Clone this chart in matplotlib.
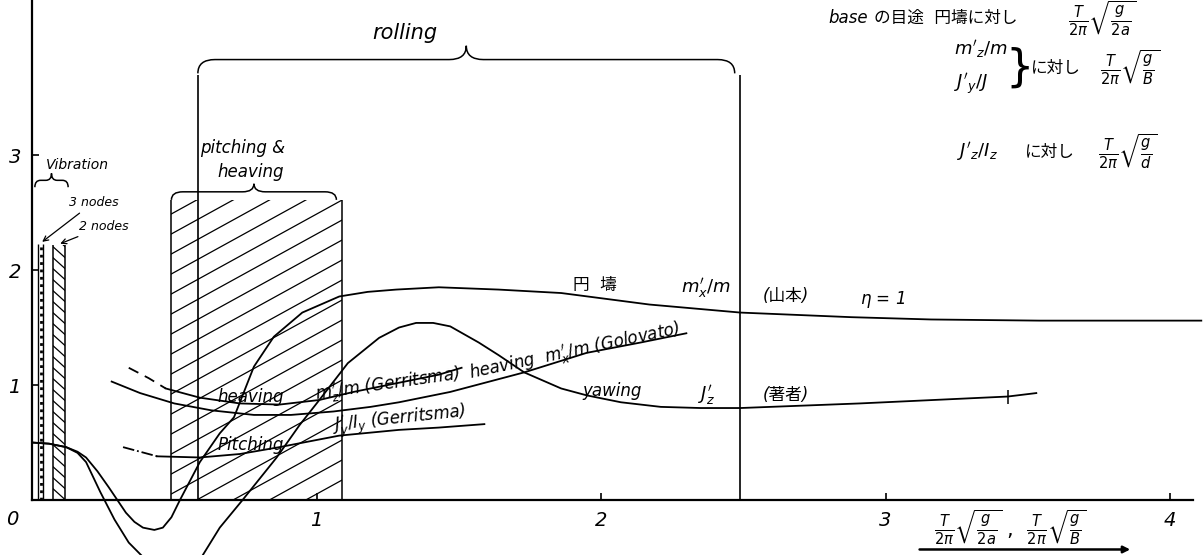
import numpy as np
import matplotlib
matplotlib.use("Agg")
import matplotlib.pyplot as plt
from matplotlib.patches import Rectangle, PathPatch
from matplotlib.path import Path

plt.rcParams['font.family'] = ['DejaVu Sans', 'Noto Sans CJK JP']
plt.rcParams['mathtext.fontset'] = 'dejavusans'

# 円壔 m_x'/m (山本) eta=1
cyl_x = [0.00, 0.06, 0.12, 0.16, 0.19, 0.23, 0.27, 0.30, 0.33, 0.36, 0.39, 0.43,
         0.46, 0.49, 0.52, 0.59, 0.66, 0.71, 0.78, 0.85, 0.95, 1.08, 1.18, 1.28,
         1.43, 1.64, 1.86, 2.17, 2.49, 2.88, 3.16, 3.54, 4.11]
cyl_y = [0.50, 0.49, 0.46, 0.42, 0.37, 0.25, 0.11, 0.00, -0.11, -0.19, -0.24, -0.26,
         -0.24, -0.15, 0.00, 0.33, 0.58, 0.72, 1.16, 1.42, 1.63, 1.77, 1.81, 1.83,
         1.85, 1.83, 1.80, 1.70, 1.63, 1.59, 1.57, 1.56, 1.56]

# yawing J_z' (著者)
yaw_x = [0.00, 0.06, 0.12, 0.16, 0.19, 0.24, 0.29, 0.34, 0.40, 0.49, 0.59, 0.66,
         0.74, 0.86, 0.94, 1.01, 1.11, 1.22, 1.29, 1.35, 1.41, 1.47, 1.57, 1.64,
         1.73, 1.86, 1.95, 2.07, 2.21, 2.35, 2.49, 2.91, 3.43, 3.53]
yaw_y = [0.50, 0.49, 0.46, 0.41, 0.33, 0.07, -0.17, -0.37, -0.52, -0.74, -0.52, -0.24,
         0.00, 0.37, 0.65, 0.87, 1.19, 1.41, 1.50, 1.54, 1.54, 1.51, 1.37, 1.26,
         1.11, 0.97, 0.91, 0.85, 0.81, 0.80, 0.80, 0.84, 0.90, 0.93]

# heaving m_z'/m (Gerritsma), dashed start then solid
hg_dash_x = [0.34, 0.41, 0.47]
hg_dash_y = [1.15, 1.06, 0.97]
hg_x = [0.47, 0.59, 0.73, 0.87, 1.01, 1.13, 1.29, 1.43, 1.51]
hg_y = [0.97, 0.89, 0.84, 0.83, 0.87, 0.94, 1.02, 1.09, 1.15]

# heaving m_x'/m (Golovato)
hv_x = [0.28, 0.38, 0.50, 0.63, 0.78, 0.91, 1.06, 1.19, 1.29, 1.47, 1.73, 1.95, 2.14, 2.30]
hv_y = [1.03, 0.93, 0.84, 0.78, 0.74, 0.74, 0.77, 0.81, 0.85, 0.94, 1.11, 1.28, 1.37, 1.45]

# pitching J_y'/I_y (Gerritsma), dash-dot start then solid
pg_dash_x = [0.32, 0.44]
pg_dash_y = [0.46, 0.38]
pg_x = [0.44, 0.59, 0.73, 0.87, 1.08, 1.29, 1.43, 1.59]
pg_y = [0.38, 0.37, 0.40, 0.46, 0.56, 0.61, 0.63, 0.66]

# ranges
vib3 = (0.021, 0.039, 2.23)
vib2 = (0.074, 0.116, 2.22)
pitch_heave = (0.49, 1.09, 2.61)
rolling = (0.583, 2.49, 3.70)

xmin, xmax = -0.1125, 4.116
ymin, ymax = -0.478, 4.348
W, H = 1203, 555
sx = W / (xmax - xmin)
sy = H / (ymax - ymin)

fig = plt.figure(figsize=(W / 100, H / 100), dpi=100)
ax = fig.add_axes([0, 0, 1, 1])
ax.set_xlim(xmin, xmax)
ax.set_ylim(ymin, ymax)

lw = 1.3
k = 'black'


def hatch(x0, x1, top, step_px, slope_px):
    clip = Rectangle((x0, 0), x1 - x0, top, fill=False, edgecolor='none')
    ax.add_patch(clip)
    slope = slope_px * sx / sy
    span = abs(slope) * (x1 - x0)
    for c in np.arange(-span, top + span, step_px / sy):
        ln, = ax.plot([x0, x1], [c, c + slope * (x1 - x0)], color=k, lw=0.9)
        ln.set_clip_path(clip)
    ax.vlines([x0, x1], 0, top, color=k, lw=1.1)


def brace(x0, x1, y, h, r):
    xm = (x0 + x1) / 2
    verts = [(x0, y - h), (x0, y), (x0 + r, y), (xm - r, y), (xm, y), (xm, y + h),
             (xm, y), (xm + r, y), (x1 - r, y), (x1, y), (x1, y - h)]
    codes = [Path.MOVETO, Path.CURVE3, Path.CURVE3, Path.LINETO, Path.CURVE3, Path.CURVE3,
             Path.CURVE3, Path.CURVE3, Path.LINETO, Path.CURVE3, Path.CURVE3]
    ax.add_patch(PathPatch(Path(verts, codes), fill=False, edgecolor=k, lw=1.1))


# shaded ranges
hatch(pitch_heave[0], pitch_heave[1], pitch_heave[2], 20, 0.55)
hatch(vib2[0], vib2[1], vib2[2], 11, -0.9)
ax.vlines([vib3[0], vib3[1]], 0, vib3[2], color=k, lw=1.0)
ax.vlines((vib3[0] + vib3[1]) / 2, 0, vib3[2], color=k, lw=2.0, linestyles=':')
ax.vlines([rolling[0], rolling[1]], 0, rolling[2], color=k, lw=1.2)

brace(rolling[0], rolling[1] - 0.02, 3.83, 0.12, 0.06)
brace(pitch_heave[0], pitch_heave[1] - 0.02, 2.68, 0.07, 0.04)
brace(0.01, 0.127, 2.78, 0.06, 0.02)

# curves
ax.plot(cyl_x, cyl_y, color=k, lw=lw)
ax.plot(yaw_x, yaw_y, color=k, lw=lw)
ax.plot(yaw_x[-2], yaw_y[-2], marker='|', ms=10, color=k, mew=1.1)
ax.plot(hg_dash_x, hg_dash_y, color=k, lw=lw, ls=(0, (6, 4)))
ax.plot(hg_x, hg_y, color=k, lw=lw)
ax.plot(hv_x, hv_y, color=k, lw=lw)
ax.plot(pg_dash_x, pg_dash_y, color=k, lw=lw, ls='-.')
ax.plot(pg_x, pg_y, color=k, lw=lw)

# axes
for s in ['top', 'right']:
    ax.spines[s].set_visible(False)
ax.spines['left'].set_position(('data', 0))
ax.spines['bottom'].set_position(('data', 0))
ax.spines['left'].set_bounds(0, ymax)
ax.spines['bottom'].set_bounds(0, 4.08)
ax.spines['left'].set_linewidth(1.6)
ax.spines['bottom'].set_linewidth(1.6)
ax.set_xticks([1, 2, 3, 4])
ax.set_yticks([1, 2, 3])
ax.tick_params(direction='in', length=5, width=1.2, labelsize=14, pad=8)
for lbl in ax.get_xticklabels() + ax.get_yticklabels():
    lbl.set_fontstyle('italic')
ax.text(-0.07, -0.17, '0', fontsize=14, style='italic', ha='center', va='center')

it = dict(style='italic', ha='center', va='center')

# range labels
ax.text(1.31, 4.06, 'rolling', fontsize=15, **it)
ax.text(0.74, 3.06, 'pitching &', fontsize=12, **it)
ax.text(0.77, 2.85, 'heaving', fontsize=12, **it)
ax.text(0.16, 2.91, 'Vibration', fontsize=10, **it)
ax.annotate('3 nodes', xy=(0.028, 2.23), xytext=(0.13, 2.59), fontsize=9, style='italic',
            va='center', arrowprops=dict(arrowstyle='->', color=k, lw=0.9))
ax.annotate('2 nodes', xy=(0.09, 2.22), xytext=(0.165, 2.38), fontsize=9, style='italic',
            va='center', arrowprops=dict(arrowstyle='->', color=k, lw=0.9))

# curve labels
ax.text(1.98, 1.87, '円  壔', fontsize=12, **it)
ax.text(2.37, 1.84, r"$m_x'/m$", fontsize=13, **it)
ax.text(2.65, 1.77, '(山本)', fontsize=12, **it)
ax.text(2.99, 1.74, r'$\eta$ = 1', fontsize=12, **it)
ax.text(0.77, 0.90, 'heaving', fontsize=12, **it)
ax.text(1.25, 1.00, r"$m_z'/m$ (Gerritsma)", fontsize=12, rotation=8, **it)
ax.text(1.91, 1.29, r"heaving  $m_x'/m$ (Golovato)", fontsize=12, rotation=12, **it)
ax.text(2.04, 0.95, 'yawing', fontsize=12, **it)
ax.text(2.37, 0.91, r"$J_z'$", fontsize=13, **it)
ax.text(2.65, 0.91, '(著者)', fontsize=12, **it)
ax.text(0.77, 0.48, 'Pitching', fontsize=12, **it)
ax.text(1.29, 0.68, r"$J_y'/I_y$ (Gerritsma)", fontsize=12, rotation=6, **it)

# base notes, top right (CJK and mathtext kept in separate texts)
ax.text(2.80, 4.19, 'base', fontsize=12, style='italic', ha='left', va='center')
ax.text(2.96, 4.19, 'の目途  円壔に対し', fontsize=12, ha='left', va='center')
ax.text(3.76, 4.19, r'$\frac{T}{2\pi}\sqrt{\frac{g}{2a}}$', fontsize=15, ha='center', va='center')
ax.text(3.24, 3.92, r"$m'_z/m$", fontsize=13, ha='left', va='center')
ax.text(3.24, 3.61, r"$J'_y/J$", fontsize=13, ha='left', va='center')
ax.text(3.47, 3.76, '}', fontsize=32, ha='center', va='center')
ax.text(3.51, 3.76, 'に対し', fontsize=12, ha='left', va='center')
ax.text(3.86, 3.76, r'$\frac{T}{2\pi}\sqrt{\frac{g}{B}}$', fontsize=15, ha='center', va='center')
ax.text(3.25, 3.03, r"$J'_z/I_z$", fontsize=13, ha='left', va='center')
ax.text(3.49, 3.03, 'に対し', fontsize=12, ha='left', va='center')
ax.text(3.85, 3.03, r'$\frac{T}{2\pi}\sqrt{\frac{g}{d}}$', fontsize=15, ha='center', va='center')

# x axis label with arrow
ax.text(3.44, -0.24, r'$\frac{T}{2\pi}\sqrt{\frac{g}{2a}}$ ,  $\frac{T}{2\pi}\sqrt{\frac{g}{B}}$',
        fontsize=15, ha='center', va='center')
ax.annotate('', xy=(3.87, -0.43), xytext=(3.11, -0.43),
            arrowprops=dict(arrowstyle='-|>', color=k, lw=1.8))

fig.savefig('out.png', dpi=100)
